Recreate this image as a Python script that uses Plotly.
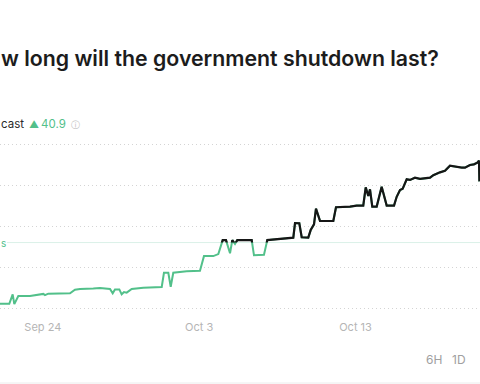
import plotly.graph_objects as go

# ---- data ----
times = [
    "2025-09-21 14:00", "2025-09-22 05:10", "2025-09-22 10:05", "2025-09-22 12:28",
    "2025-09-22 18:18", "2025-09-23 11:20", "2025-09-24 06:45", "2025-09-24 09:12",
    "2025-09-24 14:00", "2025-09-25 19:10", "2025-09-25 21:40", "2025-09-26 04:55",
    "2025-09-26 12:15", "2025-09-27 07:40", "2025-09-27 17:25", "2025-09-28 08:00",
    "2025-09-28 11:55", "2025-09-28 15:15", "2025-09-28 21:35", "2025-09-29 01:00",
    "2025-09-29 04:25", "2025-09-29 08:20", "2025-09-29 15:40", "2025-09-30 08:30",
    "2025-09-30 23:05", "2025-10-01 11:25", "2025-10-01 14:40", "2025-10-01 21:00",
    "2025-10-02 00:30", "2025-10-02 04:15", "2025-10-02 23:50", "2025-10-03 19:10",
    "2025-10-04 01:00", "2025-10-04 14:35", "2025-10-04 21:55", "2025-10-05 04:20",
    "2025-10-05 09:05", "2025-10-05 15:00", "2025-10-05 18:20", "2025-10-05 22:15",
    "2025-10-06 01:35", "2025-10-06 22:35", "2025-10-07 01:55", "2025-10-07 16:30",
    "2025-10-07 21:20", "2025-10-08 11:00", "2025-10-08 15:50", "2025-10-09 11:15",
    "2025-10-09 13:45", "2025-10-09 20:00", "2025-10-09 23:30", "2025-10-10 09:05",
    "2025-10-10 12:35", "2025-10-10 17:25", "2025-10-10 20:20", "2025-10-11 02:10",
    "2025-10-11 21:35", "2025-10-12 01:30", "2025-10-12 21:55", "2025-10-13 07:40",
    "2025-10-13 17:15", "2025-10-13 20:50", "2025-10-14 00:35", "2025-10-14 03:05",
    "2025-10-14 06:25", "2025-10-14 12:50", "2025-10-14 20:05", "2025-10-15 03:25",
    "2025-10-15 14:05", "2025-10-15 18:00", "2025-10-15 22:50", "2025-10-16 02:45",
    "2025-10-16 08:35", "2025-10-16 13:25", "2025-10-16 20:40", "2025-10-17 04:00",
    "2025-10-17 18:35", "2025-10-17 23:25", "2025-10-18 09:05", "2025-10-18 16:25",
    "2025-10-18 23:40", "2025-10-19 07:00", "2025-10-19 16:50", "2025-10-19 21:35",
    "2025-10-20 04:55", "2025-10-20 10:40", "2025-10-20 15:30", "2025-10-20 18:00",
    "2025-10-20 18:35",
]
forecast_days = [
    11.1, 11.1, 13.4, 11.0, 13.0, 13.0, 13.5, 13.2,
    13.55, 13.55, 13.65, 14.5, 14.7, 14.8, 14.95, 14.7,
    13.65, 14.6, 14.6, 13.4, 13.95, 13.8, 14.7, 15.0,
    15.1, 15.2, 18.65, 18.65, 15.25, 18.65, 19.0, 19.15,
    22.7, 22.7, 23.2, 26.6, 26.6, 23.4, 26.6, 25.65,
    26.6, 26.6, 22.9, 23.05, 26.6, 26.8, 27.05, 27.2,
    30.75, 30.7, 27.3, 27.2, 29.05, 30.45, 34.25, 31.3,
    31.25, 34.6, 34.75, 35.0, 35.0, 39.45, 37.35, 38.95,
    34.75, 34.75, 39.6, 35.0, 35.0, 37.15, 38.8, 39.1,
    41.4, 41.25, 41.8, 41.5, 41.8, 42.4, 43.1, 43.5,
    44.7, 44.45, 44.25, 44.25, 44.9, 45.05, 45.45, 45.95,
    40.9,
]
threshold = 26
grid_values = [10, 20, 30, 40, 50]
tick_times = ["2025-09-24 06:00", "2025-10-03 18:00", "2025-10-13 06:00"]
tick_labels = ["Sep 24", "Oct 3", "Oct 13"]
x_range = ["2025-09-21 15:36", "2025-10-20 19:28"]
y_range = [8.12, 51.95]

W, H = 480, 384
GREEN = "#52c08a"
BLACK = "#161616"

def px(x):
    return x / W

def py(y):
    return 1 - y / H

dom_bottom, dom_top = py(316), py(136)
thr_frac = dom_bottom + (threshold - y_range[0]) / (y_range[1] - y_range[0]) * (dom_top - dom_bottom)

fig = go.Figure()
fig.add_trace(go.Scatter(x=times, y=forecast_days, mode="lines",
                         line=dict(color=GREEN, width=2), hoverinfo="skip",
                         xaxis="x", yaxis="y"))
fig.add_trace(go.Scatter(x=times, y=forecast_days, mode="lines",
                         line=dict(color=BLACK, width=2.2), hoverinfo="skip",
                         xaxis="x", yaxis="y2"))

fig.update_layout(
    width=W, height=H,
    margin=dict(l=0, r=0, t=0, b=0),
    paper_bgcolor="white", plot_bgcolor="rgba(0,0,0,0)",
    showlegend=False,
    font=dict(family="Inter, Roboto, sans-serif"),
    xaxis=dict(type="date", range=x_range, domain=[0, 1],
               tickvals=tick_times, ticktext=tick_labels,
               showgrid=False, zeroline=False, showline=False, ticks="",
               tickfont=dict(size=11, color="#b5b5b5"), ticklabelstandoff=3),
    yaxis=dict(range=y_range, domain=[dom_bottom, dom_top],
               tickvals=grid_values, showticklabels=False,
               showgrid=True, gridcolor="#d4d4d4", griddash="1px,3px", gridwidth=1,
               zeroline=False, showline=False),
    yaxis2=dict(range=[threshold, y_range[1]], domain=[thr_frac, dom_top],
                anchor="x", showgrid=False, showticklabels=False,
                zeroline=False, showline=False),
)

# threshold reference line
fig.add_shape(type="line", xref="paper", yref="y", x0=px(7), x1=1,
              y0=threshold, y1=threshold, line=dict(color="#daf1e8", width=1), layer="below")
# bottom divider
fig.add_shape(type="line", xref="paper", yref="paper", x0=0, x1=1,
              y0=py(383), y1=py(383), line=dict(color="#ececec", width=1))

def ann(text, x, y, size, color, anchor="left", weight=None):
    f = dict(size=size, color=color, family="Inter, Roboto, sans-serif")
    if weight:
        f["weight"] = weight
    fig.add_annotation(text=text, xref="paper", yref="paper", x=px(x), y=py(y),
                       xanchor=anchor, yanchor="middle", showarrow=False, font=f)

ann("w long will the government shutdown last?", -1, 58, 21.3, "#1c1c1c", weight=600)
ann("cast", -1, 124, 11.5, "#2a2a2a")
ann("▲", 26.5, 124, 10, GREEN)
ann("40.9", 39, 124, 11.5, GREEN)
ann("ⓘ", 69, 124, 9, "#bdbdbd")
ann("s", -1, 243, 10, GREEN)
ann("6H", 433.7, 359, 12, "#a0a0a0", anchor="center")
ann("1D", 459, 359, 12, "#a0a0a0", anchor="center")

fig.write_html("out.html", config={"displayModeBar": False},
               post_script="document.body.style.margin='0';document.body.style.padding='0';")
